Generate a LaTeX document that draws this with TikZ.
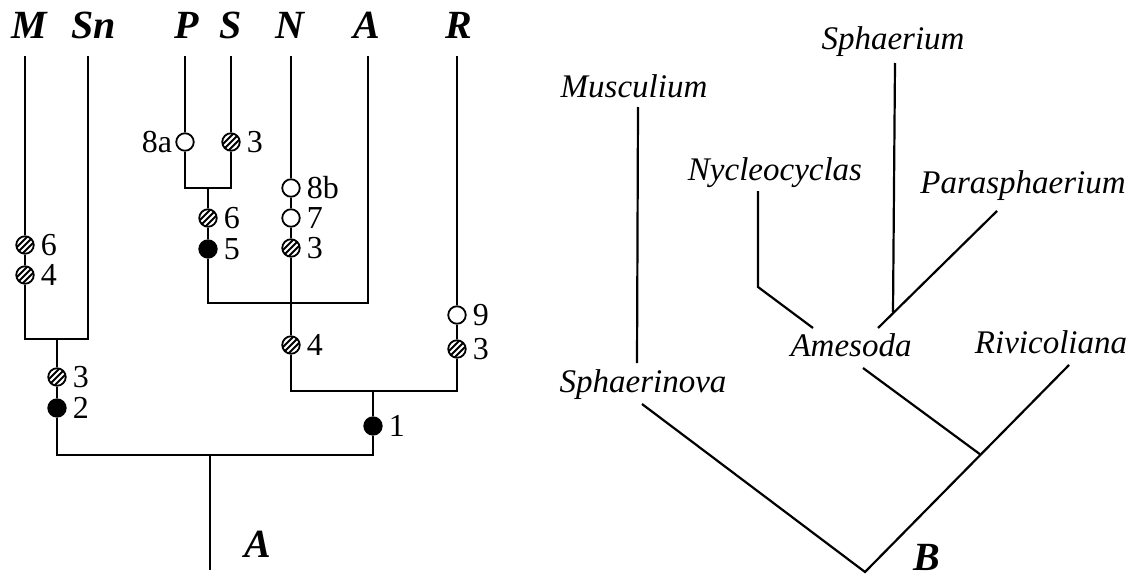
\documentclass[tikz,border=0pt]{standalone}
\usepackage{fontspec}
\setmainfont{Liberation Serif}
\begin{document}
\begin{tikzpicture}[x=1pt,y=-1pt,
  br/.style={line width=2.6pt},
  rt/.style={line width=2.2pt},
  mk/.style={circle,draw,line width=1.8pt,minimum size=17.5pt,inner sep=0pt,fill=white},
  opn/.style={mk},
  full/.style={mk,fill=black},
  hatch/.style={mk,path picture={
      \foreach \d in {-6,0,6}
        \draw[line width=2pt] ([shift={(\d-10,10)}]path picture bounding box.center) -- ++(20,-20);}},
  tax/.style={font=\fontsize{40}{44}\selectfont\bfseries\itshape,anchor=base,inner sep=0pt},
  gen/.style={font=\fontsize{33}{38}\selectfont\itshape,anchor=base,inner sep=0pt},
  every label/.style={font=\fontsize{32}{36}\selectfont,inner sep=0pt},
  label distance=6pt]
\useasboundingbox (0,0) rectangle (1142,578);

% ---------- left tree: labels ----------
\node[tax] (lM)  at (29,38)  {M};
\node[tax] (lSn) at (94,38)  {Sn};
\node[tax] (lP)  at (187,38) {P};
\node[tax] (lS)  at (231,38) {S};
\node[tax] (lN)  at (290,38) {N};
\node[tax] (lA)  at (367,38) {A};
\node[tax] (lR)  at (459,38) {R};
\node[tax] (lRoot) at (258,557) {A};

% ---------- left tree: coordinates ----------
\coordinate (tM)  at (25,56);
\coordinate (tSn) at (88,56);
\coordinate (tP)  at (185,56);
\coordinate (tS)  at (231,56);
\coordinate (tN)  at (291,56);
\coordinate (tA)  at (368,56);
\coordinate (tR)  at (457,56);
\coordinate (jM)  at (25,339);
\coordinate (jSn) at (88,339);
\coordinate (jMS) at (57,339);
\coordinate (jL)  at (57,455);
\coordinate (jR)  at (373,455);
\coordinate (jRoot) at (210,455);
\coordinate (bRoot) at (210,570);
\coordinate (jP)  at (185,188);
\coordinate (jS)  at (231,188);
\coordinate (jPS) at (208,188);
\coordinate (jPSN) at (208,303);
\coordinate (jA)  at (368,303);
\coordinate (jN)  at (291,391);
\coordinate (jRb) at (457,391);
\coordinate (jNR) at (373,391);

% ---------- left tree: character markers ----------
\node[hatch,label=right:6] (mM6) at (25,245) {};
\node[hatch,label=right:4] (mM4) at (25,275) {};
\node[hatch,label=right:3] (m3a) at (57,377) {};
\node[full,label=right:2]  (m2)  at (57,408) {};
\node[opn,label={[label distance=3pt]left:8a}] (m8a) at (185,142) {};
\node[hatch,label=right:3] (mS3) at (231,142) {};
\node[hatch,label=right:6] (m6b) at (208,218) {};
\node[full,label=right:5]  (m5)  at (208,249) {};
\node[opn,label=right:8b]  (m8b) at (291,188) {};
\node[opn,label=right:7]   (m7)  at (291,218) {};
\node[hatch,label=right:3] (mN3) at (291,248) {};
\node[hatch,label=right:4] (mN4) at (291,345) {};
\node[opn,label=right:9]   (m9)  at (457,315) {};
\node[hatch,label=right:3] (mR3) at (457,349) {};
\node[full,label=right:1]  (m1)  at (373,426) {};

% ---------- left tree: branches ----------
\draw[br] (tM) -- (mM6) -- (mM4) -- (jM) -- (jSn) -- (tSn);
\draw[br] (jMS) -- (m3a) -- (m2) -- (jL) -- (jR) -- (m1) -- (jNR);
\draw[br] (jRoot) -- (bRoot);
\draw[br] (tP) -- (m8a) -- (jP) -- (jS) -- (mS3) -- (tS);
\draw[br] (jPS) -- (m6b) -- (m5) -- (jPSN) -- (jA) -- (tA);
\draw[br] (tN) -- (m8b) -- (m7) -- (mN3) -- (mN4) -- (jN) -- (jRb) -- (mR3) -- (m9) -- (tR);

% ---------- right tree: labels ----------
\node[gen] (gSph)  at (893,49)  {Sphaerium};
\node[gen] (gMus)  at (634,97)  {Musculium};
\node[gen] (gNyc)  at (775,180) {Nycleocyclas};
\node[gen] (gPar)  at (1023,193) {Parasphaerium};
\node[gen] (gAme)  at (851,356) {Amesoda};
\node[gen] (gRiv)  at (1051,353) {Rivicoliana};
\node[gen] (gSphn) at (643,392) {Sphaerinova};
\node[tax] (lB)    at (927,570) {B};

% ---------- right tree: coordinates ----------
\coordinate (sphT)  at (895,63);
\coordinate (sphB)  at (893,312);
\coordinate (musT)  at (638,107);
\coordinate (musB)  at (637,363);
\coordinate (nycT)  at (758,191);
\coordinate (nycK)  at (758,287);
\coordinate (nycB)  at (813,328);
\coordinate (parT)  at (997,211);
\coordinate (parB)  at (878,328);
\coordinate (ameT)  at (863,368);
\coordinate (ameB)  at (981,455);
\coordinate (rivT)  at (1069,365);
\coordinate (rootB) at (865,572);
\coordinate (sphnT) at (642,404);

% ---------- right tree: branches ----------
\draw[rt] (sphT) -- (sphB);
\draw[rt] (musT) -- (musB);
\draw[rt] (nycT) -- (nycK) -- (nycB);
\draw[rt] (parT) -- (parB);
\draw[rt] (ameT) -- (ameB);
\draw[rt] (rivT) -- (rootB) -- (sphnT);
\end{tikzpicture}
\end{document}
